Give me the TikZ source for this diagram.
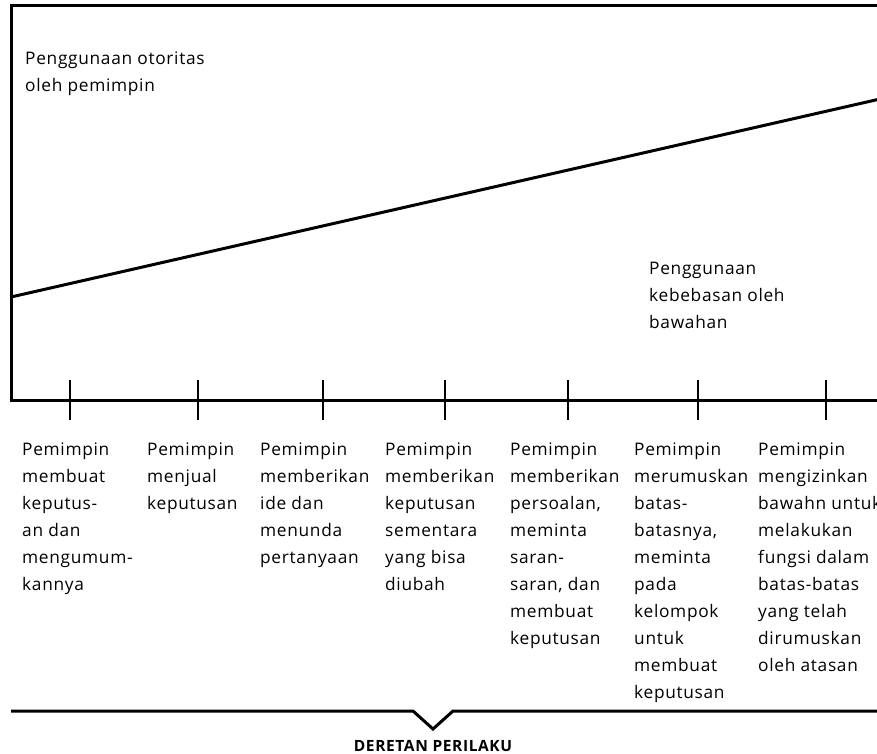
\documentclass[tikz,border=0pt]{standalone}
\usepackage{fontspec}
\setmainfont{Open Sans}[LetterSpace=4]
\newcommand\colt[1]{\vtop{\baselineskip=27pt\lineskiplimit=-20pt\halign{##\hfil\cr#1\crcr}}}
\begin{document}
\begin{tikzpicture}[x=1pt,y=-1pt,
  frame/.style={line width=3pt,line join=miter},
  tick/.style={line width=2.2pt},
  lab/.style={anchor=base west,inner sep=0pt,font=\fontsize{17.3}{27}\selectfont},
  ttl/.style={anchor=base,inner sep=0pt,font=\fontsize{15.5}{18}\selectfont\bfseries}]
\useasboundingbox (0,0) rectangle (877,754);
% frame
\coordinate (tr) at (880,6);
\coordinate (tl) at (11,6);
\coordinate (bl) at (11,400);
\coordinate (br) at (880,400);
\draw[frame] (tr) -- (tl) -- (bl) -- (br);
% diagonal
\coordinate (d1) at (11,297);
\coordinate (d2) at (880,99);
\draw[frame] (d1) -- (d2);
% ticks
\foreach \x [count=\i] in {70,198,323,445,568,698,826}{
  \coordinate (t\i a) at (\x,380);
  \coordinate (t\i b) at (\x,420);
  \draw[tick] (t\i a) -- (t\i b);
}
% labels in plot
\node[lab] (auth) at (25,65) {\colt{Penggunaan otoritas\cr oleh pemimpin}};
\node[lab] (free) at (649,274) {\colt{Penggunaan\cr kebebasan oleh\cr bawahan}};
% columns
\node[lab] (c1) at (22,455) {\colt{Pemimpin\cr membuat\cr keputus-\cr an dan\cr mengumum-\cr kannya}};
\node[lab] (c2) at (147,455) {\colt{Pemimpin\cr menjual\cr keputusan}};
\node[lab] (c3) at (260,455) {\colt{Pemimpin\cr memberikan\cr ide dan\cr menunda\cr pertanyaan}};
\node[lab] (c4) at (385,455) {\colt{Pemimpin\cr memberikan\cr keputusan\cr sementara\cr yang bisa\cr diubah}};
\node[lab] (c5) at (510,455) {\colt{Pemimpin\cr memberikan\cr persoalan,\cr meminta\cr saran-\cr saran, dan\cr membuat\cr keputusan}};
\node[lab] (c6) at (634,455) {\colt{Pemimpin\cr merumuskan\cr batas-\cr batasnya,\cr meminta\cr pada\cr kelompok\cr untuk\cr membuat\cr keputusan}};
\node[lab] (c7) at (758,455) {\colt{Pemimpin\cr mengizinkan\cr bawahn untuk\cr melakukan\cr fungsi dalam\cr batas-batas\cr yang telah\cr dirumuskan\cr oleh atasan}};
% bottom brace
\coordinate (b1) at (11,711);
\coordinate (b2) at (413,711);
\coordinate (b3) at (433,729);
\coordinate (b4) at (453,711);
\coordinate (b5) at (880,711);
\draw[frame] (b1) -- (b2) -- (b3) -- (b4) -- (b5);
\node[ttl] (title) at (433,751) {DERETAN PERILAKU};
\end{tikzpicture}
\end{document}
